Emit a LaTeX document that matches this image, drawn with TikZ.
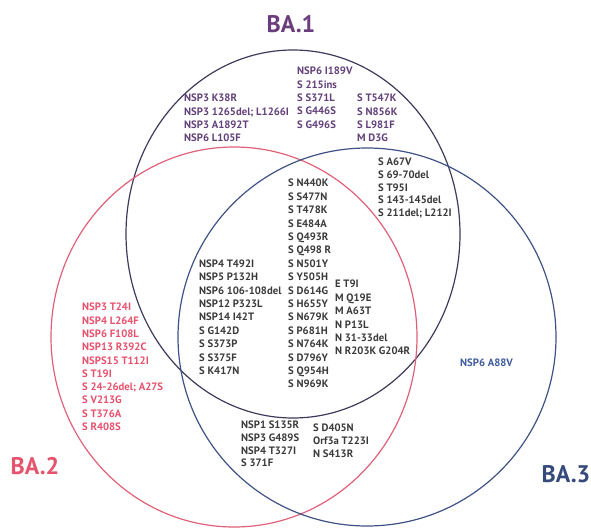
\documentclass[tikz,border=0pt]{standalone}
\usepackage{fontspec}
\setmainfont{PT Sans}
\usetikzlibrary{shapes.geometric}
\definecolor{ringA}{HTML}{3D3A5C}
\definecolor{ringB}{HTML}{E0607A}
\definecolor{ringC}{HTML}{3F5285}
\definecolor{txtA}{HTML}{62407A}
\definecolor{txtB}{HTML}{E8506C}
\definecolor{txtC}{HTML}{3D5A9C}
\definecolor{txtG}{HTML}{3A3A3A}
\definecolor{labA}{HTML}{6B3D7C}
\definecolor{labB}{HTML}{E5546C}
\definecolor{labC}{HTML}{35497A}
\begin{document}
\begin{tikzpicture}[x=1pt,y=-1pt,
  ring/.style={draw, ellipse, line width=1.2pt, inner sep=0pt},
  blk/.style={anchor=north west, align=left, inner sep=0pt, font=\fontsize{10.7}{13.3}\selectfont\bfseries},
  blkc/.style={anchor=north west, align=left, inner sep=0pt, font=\fontsize{10.7}{13.4}\selectfont\bfseries},
  blks/.style={anchor=north west, align=left, inner sep=0pt, font=\fontsize{10.7}{12.7}\selectfont\bfseries},
  lab/.style={inner sep=0pt, font=\fontsize{24}{28}\selectfont\bfseries}]
\useasboundingbox (0,0) rectangle (591,529);
% rings
\node[ring, draw=ringA, minimum width=334pt, minimum height=368pt] (ba1c) at (293,234) {};
\node[ring, draw=ringB, minimum width=366pt, minimum height=380pt] (ba2c) at (234,337) {};
\node[ring, draw=ringC, minimum width=378pt, minimum height=378pt] (ba3c) at (367,337) {};
% labels
\node[lab, text=labA] (ba1) at (291,24) {BA.1};
\node[lab, text=labB] (ba2) at (35,466) {BA.2};
\node[lab, text=labC] (ba3) at (566,474) {BA.3};
% BA.1 only
\node[blk, text=txtA] (a1) at (297,67) {NSP6 I189V\\S 215ins\\S S371L\\S G446S\\S G496S};
\node[blk, text=txtA] (a2) at (357,94) {S T547K\\S N856K\\S L981F\\M D3G};
\node[blk, text=txtA] (a3) at (184,94) {NSP3 K38R\\NSP3 1265del; L1266I\\NSP3 A1892T\\NSP6 L105F};
% BA.1 and BA.3
\node[blks, text=txtG] (a13) at (378,158) {S A67V\\S 69-70del\\S T95I\\S 143-145del\\S 211del; L212I};
% all three
\node[blkc, text=txtG] (c1) at (288,179) {S N440K\\S S477N\\S T478K\\S E484A\\S Q493R\\S Q498 R\\S N501Y\\S Y505H\\S D614G\\S H655Y\\S N679K\\S P681H\\S N764K\\S D796Y\\S Q954H\\S N969K};
\node[blkc, text=txtG] (c2) at (199,259.5) {NSP4 T492I\\NSP5 P132H\\NSP6 106-108del\\NSP12 P323L\\NSP14 I42T\\S G142D\\S S373P\\S S375F\\S K417N};
\node[blkc, text=txtG] (c3) at (335,280) {E T9I\\M Q19E\\M A63T\\N P13L\\N 31-33del\\N R203K G204R};
% BA.2 only
\node[blk, text=txtB] (b1) at (82,303) {NSP3 T24I\\NSP4 L264F\\NSP6 F108L\\NSP13 R392C\\NSPS15 T112I\\S T19I\\S 24-26del; A27S\\S V213G\\S T376A\\S R408S};
% BA.2 and BA.3
\node[blks, text=txtG] (d1) at (241,421) {NSP1 S135R\\NSP3 G489S\\NSP4 T327I\\S 371F};
\node[blks, text=txtG] (d2) at (313,424) {S D405N\\Orf3a T223I\\N S413R};
% BA.3 only
\node[blk, text=txtC] (e1) at (460,359) {NSP6 A88V};
\end{tikzpicture}
\end{document}
